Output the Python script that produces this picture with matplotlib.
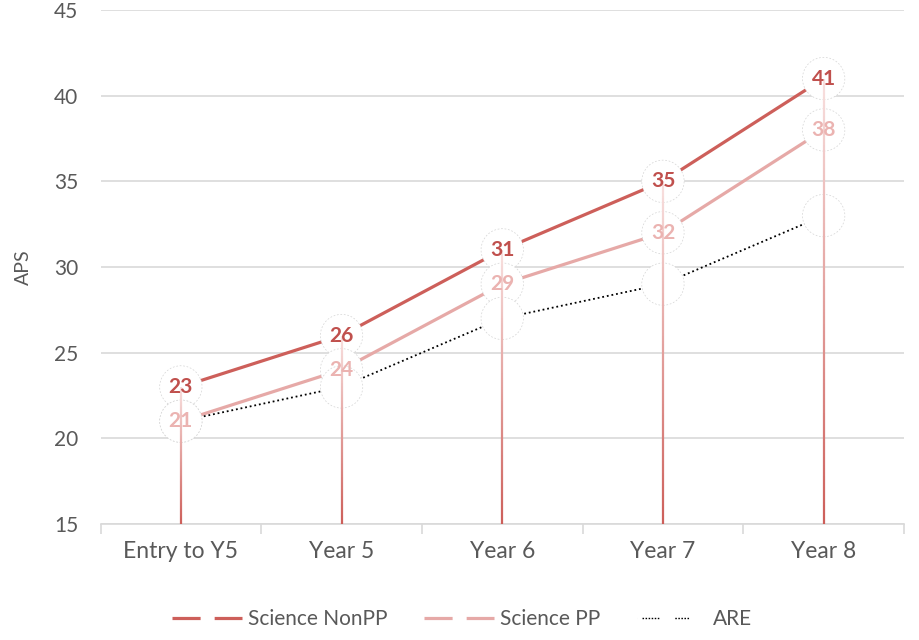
import numpy as np
import matplotlib
matplotlib.use("Agg")
import matplotlib.pyplot as plt
from matplotlib.collections import LineCollection
from matplotlib.lines import Line2D
from matplotlib.colors import to_rgb

plt.rcParams['font.family'] = ['Lato', 'DejaVu Sans']

categories = ["Entry to Y5", "Year 5", "Year 6", "Year 7", "Year 8"]
science_nonpp = [23, 26, 31, 35, 41]
science_pp = [21, 24, 29, 32, 38]
are = [21, 23, 27, 29, 33]
y_ticks = [15, 20, 25, 30, 35, 40, 45]

c_nonpp = "#cd5f5a"
c_pp = "#e6a9a7"
c_nonpp_lbl = "#c0504d"
c_pp_lbl = "#ebb3b1"
txt = "#595959"
grid = "#d9d9d9"

fig = plt.figure(figsize=(9.19, 6.4), dpi=100)
ax = fig.add_axes([100.5 / 919, 116 / 640, 803.5 / 919, 514 / 640])

x = np.arange(len(categories))
ax.set_xlim(-0.5, len(categories) - 0.5)
ax.set_ylim(15, 45)

# horizontal gridlines
ax.set_yticks(y_ticks)
ax.yaxis.grid(True, color=grid, linewidth=1.2, zorder=0)
ax.set_axisbelow(True)
for s in ["top", "right", "left"]:
    ax.spines[s].set_visible(False)
ax.spines["bottom"].set_color(grid)
ax.spines["bottom"].set_linewidth(1.2)
ax.tick_params(axis="y", length=0, labelsize=15, labelcolor=txt, pad=16)

# category labels centered, tick marks at category boundaries
ax.set_xticks(x)
ax.set_xticklabels(categories, fontsize=16.5, color=txt)
ax.tick_params(axis="x", which="major", length=0, pad=12)
ax.set_xticks(np.arange(-0.5, len(categories)), minor=True)
ax.tick_params(axis="x", which="minor", length=7, width=1.2, color=grid)

# series lines
ax.plot(x, science_nonpp, color=c_nonpp, linewidth=2.3, zorder=2)
ax.plot(x, science_pp, color=c_pp, linewidth=2.3, zorder=2)
ax.plot(x, are, color="black", linewidth=1.3, linestyle=(0, (1, 1.6)), zorder=2)

# white marker circles with faint dashed rims
for ys in (science_nonpp, science_pp, are):
    ax.scatter(x, ys, s=30.5 ** 2, facecolors="white", edgecolors="#d4d4d4",
               linewidths=0.5, linestyles=(0, (2.5, 2.5)), zorder=3)

# gradient drop lines from the highest point down to the axis
top_c = np.array(to_rgb("#f8e0df"))
bot_c = np.array(to_rgb("#cd5f5a"))
n = 120
for xi, top in zip(x, np.maximum.reduce([science_nonpp, science_pp, are])):
    ys = np.linspace(top, 15, n + 1)
    segs = [[(xi, ys[i]), (xi, ys[i + 1])] for i in range(n)]
    t = np.linspace(0, 1, n)[:, None]
    cols = top_c * (1 - t) + bot_c * t
    ax.add_collection(LineCollection(segs, colors=cols, linewidths=1.6, zorder=4,
                                     capstyle="butt"))

# value labels
for xi, v in zip(x, science_nonpp):
    ax.text(xi, v, f"{v}", ha="center", va="center", fontsize=15, fontweight="bold",
            color=c_nonpp_lbl, zorder=5)
for xi, v in zip(x, science_pp):
    ax.text(xi, v, f"{v}", ha="center", va="center", fontsize=15, fontweight="bold",
            color=c_pp_lbl, zorder=5)

ax.set_ylabel("APS", fontsize=14, color=txt)
ax.yaxis.set_label_coords(-0.085, 0.5)

# legend handles: line broken where the marker sits
dotted = [0.01, 3.6] + [1.1, 1.1] * 5 + [1.1, 11.5] + [1.1, 1.1] * 4 + [1.1, 40]
handles = [
    Line2D([], [], color=c_nonpp, linewidth=2.3, linestyle=(0, (8.8, 4.4, 8.8, 40))),
    Line2D([], [], color=c_pp, linewidth=2.3, linestyle=(0, (8.8, 4.4, 8.8, 40))),
    Line2D([], [], color="black", linewidth=1.0, linestyle=(0, tuple(dotted))),
]
leg = fig.legend(handles, ["Science NonPP", "Science PP", "ARE"], loc="center",
                 bbox_to_anchor=(462 / 919, 1 - 619 / 640), ncol=3, frameon=False,
                 fontsize=15, handlelength=3.36, columnspacing=1.75, handletextpad=0.29)
for t in leg.get_texts():
    t.set_color(txt)

fig.savefig("out.png", dpi=100)
